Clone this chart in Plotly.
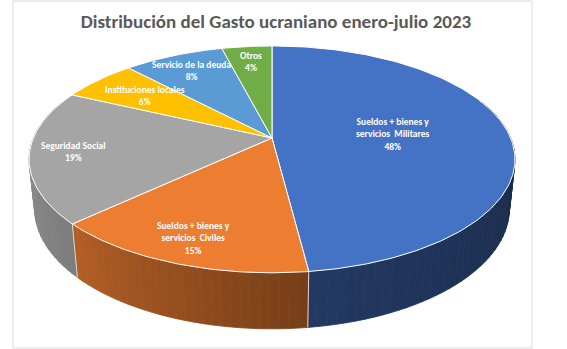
import numpy as np
import plotly.graph_objects as go

# ---------------- data ----------------
categories = [
    "Sueldos + bienes y<br>servicios  Militares",
    "Sueldos + bienes y<br>servicios  Civiles",
    "Seguridad Social",
    "Instituciones locales",
    "Servicio de la deuda",
    "Otros",
]
values = [48, 15, 19, 6, 8, 4]
colors = ["#4472C4", "#ED7D31", "#A5A5A5", "#FFC000", "#5B9BD5", "#70AD47"]
title_text = "Distribución del Gasto ucraniano enero-julio 2023"

# ---------------- 3D projection settings (style) ----------------
W, HGT = 567, 349
CX, CY = 272.0, 138.0      # pie centre on screen
A = 238.6                  # horizontal radius scale
K = 0.212                  # perspective strength
SINP = 0.4585              # tilt
COSP = np.sqrt(1 - SINP ** 2)
THICK = 0.235              # pie thickness relative to radius
START = 90.0               # first slice starts at 12 o'clock, clockwise
label_r = [0.51, 0.83, 0.82, 0.71, 0.79, 0.81]
FONT = "Carlito, Calibri, 'Liberation Sans Narrow', Roboto, sans-serif"


def proj(theta_deg, r, z):
    t = np.radians(theta_deg)
    X = r * np.cos(t)
    Y = r * np.sin(t)
    yc = Y * SINP + z * COSP
    depth = 1 + K * (Y * COSP - z * SINP)
    return CX + A * X / depth, CY - A * yc / depth


def shade(hex_color, f):
    h = hex_color.lstrip("#")
    r, g, b = (int(h[i:i + 2], 16) for i in (0, 2, 4))
    return "rgb(%d,%d,%d)" % (round(r * f), round(g * f), round(b * f))


def shade_factor(theta):
    return float(np.interp(theta, [-200, -170, -135, -83, -10, 20],
                           [0.85, 0.83, 0.75, 0.50, 0.38, 0.38]))


total = float(sum(values))
bounds = []
acc = 0.0
for v in values:
    th0 = START - acc / total * 360.0
    acc += v
    th1 = START - acc / total * 360.0
    bounds.append((th0, th1))

fig = go.Figure()

# ---------------- outer walls ----------------
VIS_LO, VIS_HI = -200.0, 20.0
for (th0, th1), col in zip(bounds, colors):
    lo, hi = max(th1, VIS_LO), min(th0, VIS_HI)
    if lo >= hi:
        continue
    n = max(1, int(np.ceil((hi - lo) / 2.0)))
    edges = np.linspace(hi, lo, n + 1)
    for a, b in zip(edges[:-1], edges[1:]):
        ts = np.linspace(a, b, 4)
        xt, yt = proj(ts, 1.0, 0.0)
        xb, yb = proj(ts[::-1], 1.0, -THICK)
        xs = np.concatenate([xt, xb, xt[:1]])
        ys = np.concatenate([yt, yb, yt[:1]])
        c = shade(col, shade_factor((a + b) / 2))
        fig.add_trace(go.Scatter(x=xs, y=ys, mode="lines", fill="toself",
                                 fillcolor=c, line=dict(color=c, width=0.8),
                                 hoverinfo="skip", showlegend=False))

# wall boundary lines
for th0, th1 in bounds:
    th = th0
    tt = th if VIS_LO < th < VIS_HI else th - 360
    if VIS_LO < tt < VIS_HI:
        x0, y0 = proj(tt, 1.0, 0.0)
        x1, y1 = proj(tt, 1.0, -THICK)
        fig.add_trace(go.Scatter(x=[x0, x1], y=[y0, y1], mode="lines",
                                 line=dict(color="#D9D9D9", width=1),
                                 hoverinfo="skip", showlegend=False))

# ---------------- top faces ----------------
for (th0, th1), col in zip(bounds, colors):
    n = max(4, int(np.ceil(abs(th0 - th1))))
    ts = np.linspace(th0, th1, n + 1)
    xa, ya = proj(ts, 1.0, 0.0)
    xs = np.concatenate([[CX], xa, [CX]])
    ys = np.concatenate([[CY], ya, [CY]])
    fig.add_trace(go.Scatter(x=xs, y=ys, mode="lines", fill="toself",
                             fillcolor=col, line=dict(color="white", width=1),
                             hoverinfo="skip", showlegend=False))

# ---------------- labels ----------------
for (th0, th1), cat, v, rr in zip(bounds, categories, values, label_r):
    mid = (th0 + th1) / 2
    lx, ly = proj(mid, rr, 0.0)
    fig.add_annotation(x=lx, y=ly, xref="x", yref="y", showarrow=False,
                       text=f"{cat}<br>{v / total * 100:.0f}%",
                       font=dict(family=FONT, size=9.5, color="white",
                                 weight="bold"),
                       align="center", xanchor="center", yanchor="middle",
                       borderpad=0)

# chart border
fig.add_shape(type="rect", x0=13, x1=532, y0=1, y1=348, xref="x", yref="y",
              line=dict(color="#D9D9D9", width=1), layer="below")

fig.update_layout(
    width=W, height=HGT,
    margin=dict(l=0, r=0, t=0, b=0),
    paper_bgcolor="white", plot_bgcolor="white",
    showlegend=False,
    title=dict(text=title_text, x=276 / W, xanchor="center",
               y=1 - 21.5 / HGT, yanchor="middle",
               font=dict(family=FONT, size=19, color="#595959", weight=600)),
    xaxis=dict(range=[0, W], visible=False, fixedrange=True),
    yaxis=dict(range=[HGT, 0], visible=False, fixedrange=True),
)

fig.write_html("out.html")
